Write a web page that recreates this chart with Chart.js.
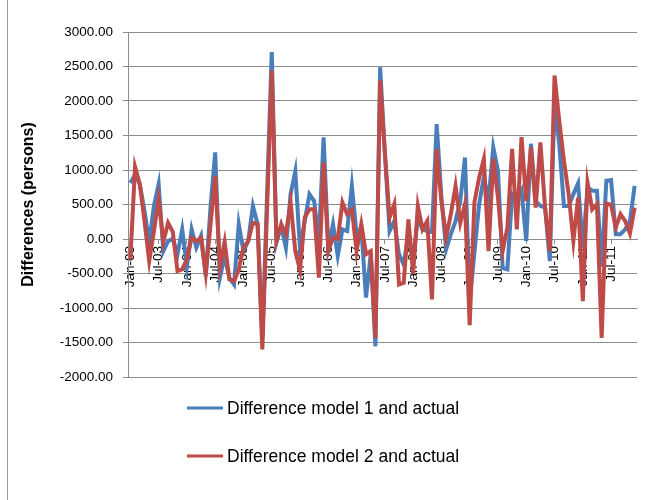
<!DOCTYPE html>
<html>
<head>
<meta charset="utf-8">
<script src="https://cdn.jsdelivr.net/npm/chart.js@4.4.0/dist/chart.umd.min.js"></script>
<style>
  html, body { margin: 0; padding: 0; background: #fff; }
  #wrap { width: 662px; height: 500px; position: relative; }
</style>
</head>
<body>
<div id="wrap"><canvas id="diffChart"></canvas></div>
<script>
// months Jan-03 .. Dec-11
const monthNames = ['Jan', 'Feb', 'Mar', 'Apr', 'May', 'Jun', 'Jul', 'Aug', 'Sep', 'Oct', 'Nov', 'Dec'];
const years = ['03', '04', '05', '06', '07', '08', '09', '10', '11'];
const categories = [];
years.forEach(y => monthNames.forEach(m => categories.push(m + '-' + y)));

const model1Diff = [
  810, 930, 795, 410, -50, 480, 795, -175, -30, 0, -220, 140,
  -400, 140, -125, 45, -540, 450, 1255, -560, -250, -560, -660, 215,
  -175, -30, 480, 215, -1450, 630, 2710, -50, 190, -125, 650, 980,
  -150, 260, 650, 550, -30, 1475, -125, 215, -245, 140, 115, 770,
  70, 165, -850, -220, -1555, 2490, 1250, 115, 260, -220, -370, 70,
  -300, 300, 140, 115, 100, 1665, 600, -150, 70, 260, 550, 1180,
  -900, -200, 500, 900, 560, 1330, 990, -420, -440, 650, 560, 700,
  -30, 1380, 550, 480, 455, -320, 1955, 1375, 480, 480, 650, 805,
  -125, 745, 700, 700, -400, 845, 855, 70, 70, 140, 260, 770
];
const model2Diff = [
  -295, 1045, 795, 260, -320, 115, 575, -40, 235, 105, -465, -440,
  -290, 20, -30, 20, -500, 200, 915, -400, -40, -585, -610, -440,
  -125, -30, 235, 215, -1600, 420, 2440, -30, 215, 70, 530, -175,
  -450, 310, 430, 430, -560, 1110, -175, 20, 0, 530, 360, 430,
  -175, 215, -220, -175, -1435, 2300, 1250, 310, 505, -660, -635, 285,
  -500, 480, 140, 260, -875, 1305, 550, 20, 360, 770, 235, 505,
  -1250, 530, 890, 1160, -175, 1160, 600, -175, 165, 1305, 140, 1475,
  550, 1330, 455, 1400, 450, -175, 2370, 1715, 1135, 650, -30, 600,
  -900, 820, 430, 505, -1435, 515, 495, 165, 360, 260, 80, 455
];
const seriesNames = ['Difference model 1 and actual', 'Difference model 2 and actual'];
const yTicks = [-2000, -1500, -1000, -500, 0, 500, 1000, 1500, 2000, 2500, 3000];

const FONT = '"Liberation Sans", Arial, sans-serif';
const gridGray = '#8c8c8c';

// legend stacked under the plot, like the Excel one
const stackedLegend = {
  id: 'stackedLegend',
  afterDraw(chart) {
    const ctx = chart.ctx;
    ctx.save();
    // chart area border on the left
    ctx.strokeStyle = '#9a9a9a';
    ctx.lineWidth = 1;
    ctx.beginPath();
    ctx.moveTo(7.5, 0);
    ctx.lineTo(7.5, 500);
    ctx.stroke();

    const rowY = [408, 456];
    chart.data.datasets.forEach((ds, i) => {
      ctx.strokeStyle = ds.borderColor;
      ctx.lineWidth = 3;
      ctx.beginPath();
      ctx.moveTo(187, rowY[i]);
      ctx.lineTo(223, rowY[i]);
      ctx.stroke();
      ctx.fillStyle = '#000';
      ctx.font = '17.5px ' + FONT;
      ctx.textBaseline = 'middle';
      ctx.textAlign = 'left';
      ctx.fillText(ds.label, 227, rowY[i] + 1);
    });
    ctx.restore();
  }
};

new Chart(document.getElementById('diffChart'), {
  type: 'line',
  data: {
    labels: categories,
    datasets: [
      {
        label: seriesNames[0],
        data: model1Diff,
        borderColor: '#4a7ebb',
        borderWidth: 4,
        pointRadius: 0,
        tension: 0,
        order: 1
      },
      {
        label: seriesNames[1],
        data: model2Diff,
        borderColor: '#be4b48',
        borderWidth: 4,
        pointRadius: 0,
        tension: 0,
        order: 0
      }
    ]
  },
  options: {
    responsive: true,
    maintainAspectRatio: false,
    animation: false,
    layout: { padding: { left: 19, top: 32, right: 25, bottom: 123 } },
    plugins: {
      legend: { display: false },
      tooltip: { enabled: false }
    },
    scales: {
      x: {
        type: 'category',
        offset: true,
        position: { y: 0 },
        grid: {
          drawOnChartArea: false,
          tickLength: 4,
          color: c => (c.index % 6 === 0 ? gridGray : 'rgba(0,0,0,0)')
        },
        border: { color: gridGray },
        ticks: {
          autoSkip: false,
          minRotation: 90,
          maxRotation: 90,
          padding: 3,
          color: '#000',
          font: { family: FONT, size: 13.5 },
          callback: function (v, i) { return i % 6 === 0 ? this.getLabelForValue(v) : ''; }
        }
      },
      y: {
        min: yTicks[0],
        max: yTicks[yTicks.length - 1],
        afterBuildTicks: s => { s.ticks = yTicks.map(v => ({ value: v })); },
        afterFit: s => { s.width = 109; },
        grid: { color: gridGray, tickLength: 5 },
        border: { color: gridGray },
        ticks: {
          padding: 10,
          color: '#000',
          font: { family: FONT, size: 13.5 },
          callback: v => Number(v).toFixed(2)
        },
        title: {
          display: true,
          text: 'Differences (persons)',
          color: '#000',
          padding: 0,
          font: { family: FONT, size: 16, weight: 'bold' }
        }
      }
    }
  },
  plugins: [stackedLegend]
});
</script>
</body>
</html>
